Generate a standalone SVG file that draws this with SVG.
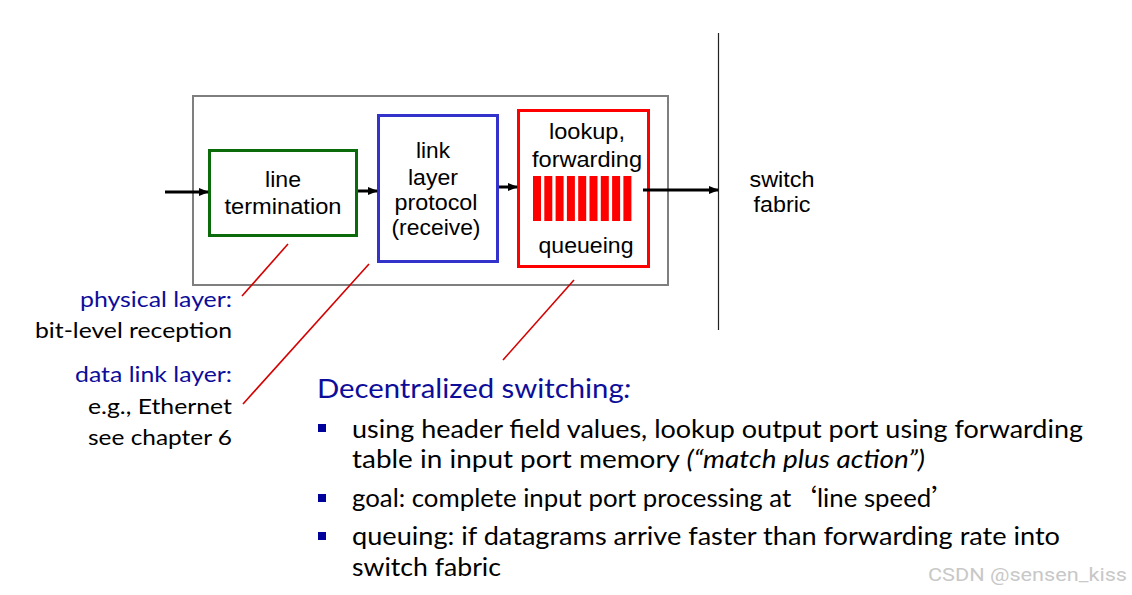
<svg xmlns="http://www.w3.org/2000/svg" width="1132" height="595" viewBox="0 0 1132 595">
<defs>
<style>
.box{font-family:"Liberation Sans",Arial,sans-serif;font-size:22px;fill:#000;text-anchor:middle}
.cal{font-family:Lato,"Open Sans",sans-serif;fill:#000}
.left{font-size:22px;text-anchor:end}
.blue{fill:#0d0d9a}
.body{font-size:24.5px}
.cjk{font-family:"Noto Sans CJK SC",sans-serif}
.call{stroke:#d40000;stroke-width:1.6;fill:none}
.arr{stroke:#000;stroke-width:3;fill:none}
.bar{fill:#ff0000}
.bullet{fill:#00009a}
</style>
<marker id="ah" markerWidth="10" markerHeight="8" refX="9" refY="4" orient="auto" markerUnits="userSpaceOnUse">
<path d="M0,0 L10,4 L0,8 Z" fill="#000"/>
</marker>
</defs>
<rect width="1132" height="595" fill="#fff"/>

<g id="input-port">
<rect x="193" y="96" width="475" height="189" fill="none" stroke="#7f7f7f" stroke-width="2"/>
</g>

<g id="switch-fabric">
<line x1="718.5" y1="33" x2="718.5" y2="330" stroke="#222" stroke-width="1.2"/>
<text class="box" x="782" y="187" textLength="65" lengthAdjust="spacingAndGlyphs">switch</text>
<text class="box" x="782" y="212" textLength="57" lengthAdjust="spacingAndGlyphs">fabric</text>
</g>

<g id="line-termination">
<rect x="209.5" y="150.5" width="147" height="85" fill="#fff" stroke="#0b6b0b" stroke-width="3"/>
<text class="box" x="283" y="187" textLength="36" lengthAdjust="spacingAndGlyphs">line</text>
<text class="box" x="283" y="214" textLength="117" lengthAdjust="spacingAndGlyphs">termination</text>
</g>

<g id="link-layer">
<rect x="378.5" y="115.5" width="119" height="146" fill="#fff" stroke="#3333cc" stroke-width="3"/>
<text class="box" x="433" y="158" textLength="34" lengthAdjust="spacingAndGlyphs">link</text>
<text class="box" x="433" y="185" textLength="50" lengthAdjust="spacingAndGlyphs">layer</text>
<text class="box" x="436" y="210" textLength="83" lengthAdjust="spacingAndGlyphs">protocol</text>
<text class="box" x="436" y="235" textLength="89" lengthAdjust="spacingAndGlyphs">(receive)</text>
</g>

<g id="lookup">
<rect x="518.5" y="110.5" width="130" height="156" fill="#fff" stroke="#ff0000" stroke-width="3"/>
<text class="box" x="587" y="139" textLength="76" lengthAdjust="spacingAndGlyphs">lookup,</text>
<text class="box" x="587" y="167" textLength="110" lengthAdjust="spacingAndGlyphs">forwarding</text>
<rect class="bar" x="533" y="176" width="8" height="45"/>
<rect class="bar" x="544.3" y="176" width="8" height="45"/>
<rect class="bar" x="555.6" y="176" width="8" height="45"/>
<rect class="bar" x="566.9" y="176" width="8" height="45"/>
<rect class="bar" x="578.2" y="176" width="8" height="45"/>
<rect class="bar" x="589.5" y="176" width="8" height="45"/>
<rect class="bar" x="600.8" y="176" width="8" height="45"/>
<rect class="bar" x="612.1" y="176" width="8" height="45"/>
<rect class="bar" x="623.4" y="176" width="8" height="45"/>
<text class="box" x="586" y="253" textLength="95" lengthAdjust="spacingAndGlyphs">queueing</text>
</g>

<g id="connectors">
<line class="arr" x1="165" y1="192" x2="208" y2="192" marker-end="url(#ah)"/>
<line class="arr" x1="358" y1="191" x2="377" y2="191" marker-end="url(#ah)"/>
<line class="arr" x1="499" y1="187" x2="517" y2="187" marker-end="url(#ah)"/>
<line class="arr" x1="643" y1="190" x2="718" y2="190" marker-end="url(#ah)"/>
<line class="call" x1="288" y1="244" x2="242" y2="296"/>
<line class="call" x1="369" y1="264" x2="243" y2="404"/>
<line class="call" x1="574" y1="280" x2="503" y2="360"/>
</g>

<g id="physical-layer-note">
<text class="cal left blue" x="232" y="307" textLength="152" lengthAdjust="spacingAndGlyphs">physical layer:</text>
<text class="cal left" x="232" y="338" textLength="197" lengthAdjust="spacingAndGlyphs">bit-level reception</text>
</g>

<g id="data-link-note">
<text class="cal left blue" x="232" y="382" textLength="157" lengthAdjust="spacingAndGlyphs">data link layer:</text>
<text class="cal left" x="232" y="414" textLength="144" lengthAdjust="spacingAndGlyphs">e.g., Ethernet</text>
<text class="cal left" x="232" y="445" textLength="144" lengthAdjust="spacingAndGlyphs">see chapter 6</text>
</g>

<g id="decentralized-switching">
<text class="cal blue" x="317" y="398" font-size="27.5" textLength="314" lengthAdjust="spacingAndGlyphs">Decentralized switching<tspan font-style="italic">:</tspan></text>
<rect class="bullet" x="318" y="424" width="8" height="8"/>
<text class="cal body" x="352" y="438" textLength="731" lengthAdjust="spacingAndGlyphs">using header field values, lookup output port using forwarding</text>
<text class="cal body" x="352" y="468" textLength="573" lengthAdjust="spacingAndGlyphs">table in input port memory <tspan font-style="italic">(“match plus action”)</tspan></text>
<rect class="bullet" x="318" y="494" width="8" height="8"/>
<text class="cal body" x="352" y="507" textLength="605" lengthAdjust="spacingAndGlyphs">goal: complete input port processing at<tspan class="cjk">‘</tspan>line speed<tspan class="cjk">’</tspan></text>
<rect class="bullet" x="318" y="532" width="8" height="8"/>
<text class="cal body" x="352" y="545" textLength="708" lengthAdjust="spacingAndGlyphs">queuing: if datagrams arrive faster than forwarding rate into</text>
<text class="cal body" x="352" y="576" textLength="149" lengthAdjust="spacingAndGlyphs">switch fabric</text>
</g>

<text x="928" y="581" font-family="Roboto,'Liberation Sans',sans-serif" font-size="18" fill="#c8c8c8" textLength="199" lengthAdjust="spacingAndGlyphs">CSDN @sensen_kiss</text>
</svg>
